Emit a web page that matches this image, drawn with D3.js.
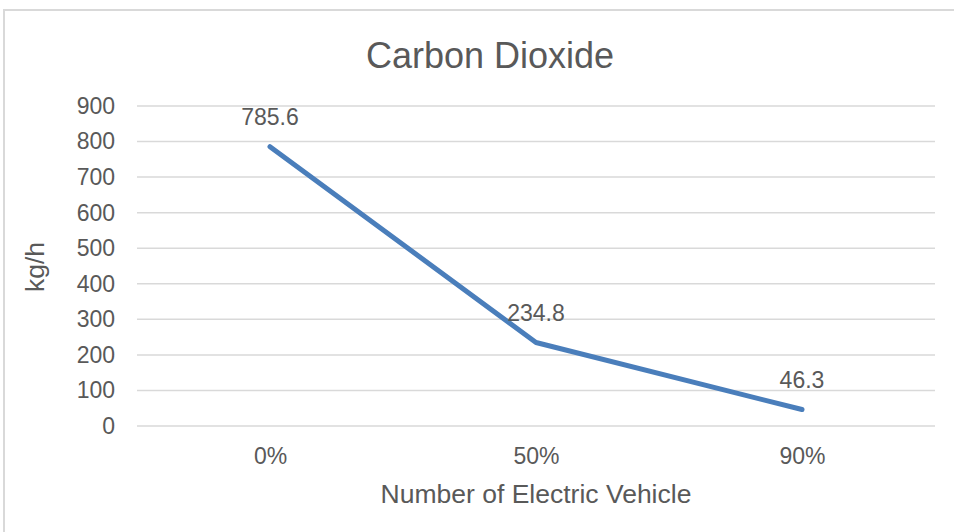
<!DOCTYPE html>
<html>
<head>
<meta charset="utf-8">
<script src="https://cdn.jsdelivr.net/npm/d3@7"></script>
<style>
  body { margin: 0; background: #fff; }
  svg text { font-family: "Liberation Sans", Arial, sans-serif; fill: #595959; }
</style>
</head>
<body>
<div id="chart"></div>
<script>
const categories = ["0%", "50%", "90%"];
const co2 = [785.6, 234.8, 46.3];
const yTicks = [0, 100, 200, 300, 400, 500, 600, 700, 800, 900];

const W = 954, H = 532;
const margin = { top: 106, right: 19, bottom: 106, left: 137 };
const width = W - margin.left - margin.right;
const height = H - margin.top - margin.bottom;

const root = d3.select("#chart").append("svg")
  .attr("width", W)
  .attr("height", H);

// chart frame (cropped on the right and bottom)
root.append("rect")
  .attr("x", 4).attr("y", 10)
  .attr("width", 1000).attr("height", 600)
  .attr("fill", "#fff")
  .attr("stroke", "#d9d9d9")
  .attr("stroke-width", 2);

root.append("text")
  .attr("x", 490)
  .attr("y", 68)
  .attr("text-anchor", "middle")
  .style("font-size", "36px")
  .text("Carbon Dioxide");

const svg = root.append("g")
  .attr("transform", `translate(${margin.left},${margin.top})`);

const x = d3.scalePoint().domain(categories).range([0, width]).padding(0.5);
const y = d3.scaleLinear().domain([0, 900]).range([height, 0]);

// gridlines
svg.append("g")
  .selectAll("line")
  .data(yTicks)
  .enter()
  .append("line")
  .attr("x1", 0).attr("x2", width)
  .attr("y1", d => y(d)).attr("y2", d => y(d))
  .attr("stroke", "#d9d9d9")
  .attr("stroke-width", 1.5);

const yAxis = svg.append("g")
  .call(d3.axisLeft(y).tickValues(yTicks).tickSize(0).tickPadding(22));
yAxis.select(".domain").remove();
yAxis.selectAll("text").style("font-size", "23px").attr("fill", "#595959");

const xAxis = svg.append("g")
  .attr("transform", `translate(0,${height})`)
  .call(d3.axisBottom(x).tickSize(0).tickPadding(22));
xAxis.select(".domain").remove();
xAxis.selectAll("text").style("font-size", "23px").attr("fill", "#595959");

svg.append("text")
  .attr("x", width / 2)
  .attr("y", height + 77)
  .attr("text-anchor", "middle")
  .style("font-size", "26.5px")
  .text("Number of Electric Vehicle");

svg.append("text")
  .attr("transform", "rotate(-90)")
  .attr("x", -(267 - margin.top))
  .attr("y", -93)
  .attr("text-anchor", "middle")
  .style("font-size", "26.5px")
  .text("kg/h");

const line = d3.line()
  .x((d, i) => x(categories[i]))
  .y(d => y(d));

svg.append("path")
  .datum(co2)
  .attr("fill", "none")
  .attr("stroke", "#4a7ebb")
  .attr("stroke-width", 5)
  .attr("stroke-linecap", "round")
  .attr("stroke-linejoin", "round")
  .attr("d", line);

svg.append("g")
  .selectAll("text")
  .data(co2)
  .enter()
  .append("text")
  .attr("x", (d, i) => x(categories[i]))
  .attr("y", d => y(d) - 22)
  .attr("text-anchor", "middle")
  .style("font-size", "23px")
  .text(d => d);
</script>
</body>
</html>
